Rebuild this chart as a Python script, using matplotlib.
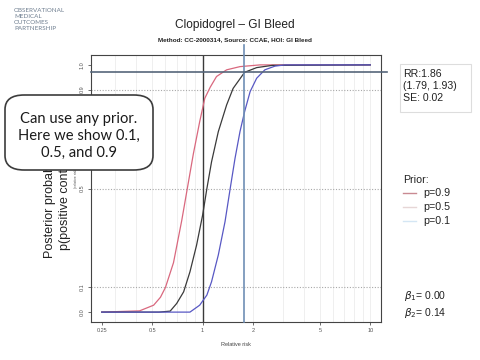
import matplotlib.pyplot as plt
import numpy as np
from matplotlib.patches import FancyBboxPatch, Rectangle
from matplotlib.ticker import NullLocator

# Posterior curves: relative risk vs probability
p09_rr = [0.25, 0.42, 0.51, 0.56, 0.60, 0.67, 0.75, 0.81, 0.88, 0.96, 1.03, 1.11, 1.21, 1.39, 1.67, 2.2, 10]
p09_prob = [0.0, 0.005, 0.028, 0.06, 0.10, 0.20, 0.37, 0.50, 0.64, 0.77, 0.865, 0.91, 0.953, 0.98, 0.993, 1.0, 1.0]

p05_rr = [0.25, 0.55, 0.64, 0.70, 0.77, 0.84, 0.92, 1.0, 1.06, 1.13, 1.24, 1.39, 1.52, 1.78, 2.10, 2.6, 10]
p05_prob = [0.0, 0.0, 0.004, 0.035, 0.082, 0.163, 0.271, 0.393, 0.5, 0.608, 0.73, 0.838, 0.905, 0.97, 0.989, 0.998, 1.0]

p01_rr = [0.25, 0.70, 0.84, 0.96, 1.06, 1.13, 1.24, 1.36, 1.46, 1.56, 1.67, 1.78, 1.92, 2.10, 2.35, 2.7, 3.1, 10]
p01_prob = [0.0, 0.0, 0.0, 0.028, 0.069, 0.123, 0.231, 0.366, 0.5, 0.622, 0.73, 0.811, 0.892, 0.946, 0.98, 0.995, 1.0, 1.0]

x_ticks = [0.25, 0.5, 1, 2, 5, 10]
x_tick_labels = ["0.25", "0.5", "1", "2", "5", "10"]
y_ticks = [0.0, 0.1, 0.5, 0.9, 1.0]
y_tick_labels = ["0.0", "0.1", "0.5", "0.9", "1.0"]
dotted_levels = [0.1, 0.5, 0.9]
grid_x = [0.3, 0.4, 0.5, 0.6, 0.7, 0.8, 0.9, 2, 3, 4, 5, 6, 7, 8, 9, 10]

rr_line = 1.77
prob_at_rr = 0.97
rr_text = "RR:1.86\n(1.79, 1.93)\nSE: 0.02"
beta_text = "$\\beta_1$= 0.00\n$\\beta_2$= 0.14"

RED = "#d9687e"
DARK = "#3a3a3a"
BLUE = "#5858c4"
INK = "#222222"
FONT = "Liberation Sans"

fig = plt.figure(figsize=(4.8, 3.6), dpi=100, facecolor="white")
ax = fig.add_axes([91 / 480, 1 - 322 / 360, 290 / 480, 267 / 360])
ax.set_xscale("log")
ax.set_xlim(0.2157, 11.59)
ax.set_ylim(-0.04, 1.04)

for gx in grid_x:
    ax.axvline(gx, color="#ededed", linewidth=0.6, zorder=0)
for level in dotted_levels:
    ax.axhline(level, color="#a8a8a8", linewidth=0.8, linestyle=(0, (1, 1.5)), zorder=1)

ax.axvline(1, color=DARK, linewidth=1.0, zorder=2)

ax.plot(p09_rr, p09_prob, color=RED, linewidth=0.9, zorder=3)
ax.plot(p05_rr, p05_prob, color=DARK, linewidth=0.9, zorder=3)
ax.plot(p01_rr, p01_prob, color=BLUE, linewidth=0.9, zorder=3)

# crosshair at the estimate, running past the frame
ax.plot([rr_line, rr_line], [-0.04, 1.08], color="#6f8fb5", linewidth=1.2, clip_on=False, zorder=4)
ax.plot([0.2157, 12.6], [prob_at_rr, prob_at_rr], color="#56667a", linewidth=1.2, clip_on=False, zorder=4)

ax.xaxis.set_minor_locator(NullLocator())
ax.set_xticks(x_ticks, x_tick_labels)
ax.set_yticks(y_ticks, y_tick_labels, rotation=90, va="center")
ax.tick_params(length=2.5, width=0.6, colors="#555555", labelsize=4, pad=2)
for lab in ax.get_xticklabels() + ax.get_yticklabels():
    lab.set_family(FONT)
for spine in ax.spines.values():
    spine.set_color("#444444")
    spine.set_linewidth(0.8)
ax.set_xlabel("Relative risk", fontsize=4, color="#444444", family=FONT, labelpad=6)

# titles
fig.text(235 / 480, 1 - 25 / 360, "Clopidogrel \u2013 GI Bleed", ha="center", va="center",
         fontsize=8.6, color=INK, family=FONT)
fig.text(235 / 480, 1 - 39.5 / 360, "Method: CC-2000314, Source: CCAE, HOI: GI Bleed", ha="center",
         va="center", fontsize=4.6, weight="bold", color=INK, family=FONT)
fig.text(14 / 480, 1 - 8 / 360, "OBSERVATIONAL\nMEDICAL\nOUTCOMES\nPARTNERSHIP", ha="left", va="top",
         fontsize=4.5, color="#6f7f90", family="Lato", linespacing=1.25)

# y label, partly hidden behind the callout
fig.text(50 / 480, 1 - 258 / 360, "Posterior probability", rotation=90, ha="center", va="bottom",
         fontsize=9, color=INK, family=FONT, zorder=2)
fig.text(65 / 480, 1 - 250 / 360, "p(positive control)", rotation=90, ha="center", va="bottom",
         fontsize=9, color=INK, family=FONT, zorder=2)
fig.text(76 / 480, 1 - 178 / 360, "(relative risk)", rotation=90, ha="center", va="center",
         fontsize=2.5, color="#555555", family=FONT, zorder=2)

# callout
callout = FancyBboxPatch((5 / 480, 1 - 170 / 360), 148 / 480, 75 / 360,
                         boxstyle="round,pad=0,rounding_size=0.04", transform=fig.transFigure,
                         facecolor="white", edgecolor="#3c3c3c", linewidth=1.2, zorder=5)
fig.add_artist(callout)
fig.text(79 / 480, 1 - 136 / 360, "Can use any prior.\nHere we show 0.1,\n0.5, and 0.9", ha="center",
         va="center", fontsize=10.6, color="#1a1a1a", family="Lato", linespacing=1.3, zorder=6)

# estimate box
fig.add_artist(Rectangle((400 / 480, 1 - 112 / 360), 71 / 480, 48 / 360, transform=fig.transFigure,
                         facecolor="white", edgecolor="#dddddd", linewidth=0.8, zorder=5))
fig.text(403 / 480, 1 - 86 / 360, rr_text, ha="left", va="center", fontsize=7.6, color=INK,
         family=FONT, linespacing=1.25, zorder=6)

# legend
fig.text(403 / 480, 1 - 180 / 360, "Prior:", ha="left", va="center", fontsize=7.7, color=INK, family=FONT)
legend_items = [("p=0.9", "#c98a92", 193), ("p=0.5", "#e6d6d6", 207), ("p=0.1", "#d4e6f4", 221)]
for label, col, ypx in legend_items:
    fig.add_artist(plt.Line2D([403 / 480, 416 / 480], [1 - ypx / 360] * 2, color=col, linewidth=1.0,
                              transform=fig.transFigure))
    fig.text(423 / 480, 1 - ypx / 360, label, ha="left", va="center", fontsize=7.7, color=INK, family=FONT)

fig.text(404 / 480, 1 - 304.5 / 360, beta_text, ha="left", va="center", fontsize=7.5, color=INK,
         family=FONT, linespacing=1.35)

fig.savefig("out.png", dpi=100, facecolor="white")
